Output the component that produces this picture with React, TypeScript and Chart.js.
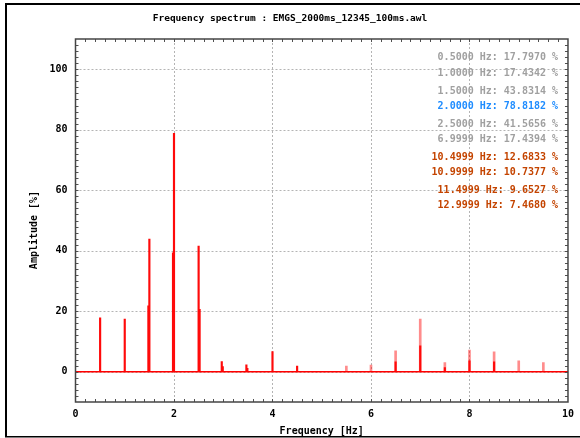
import React, { useEffect, useRef } from "react";
import { Chart, registerables } from "chart.js";

Chart.register(...registerables);

const TITLE = "Frequency spectrum : EMGS_2000ms_12345_100ms.awl";
const X_TITLE = "Frequency [Hz]";
const Y_TITLE = "Amplitude [%]";

const xTicks = [0, 2, 4, 6, 8, 10];
const yTicks = [0, 20, 40, 60, 80, 100];

// strong spectral lines
const brightFreqs = [0.5, 1.0, 1.48, 1.5, 1.98, 2.0, 2.5, 2.52, 2.97, 2.99, 3.47, 3.49, 4.0, 4.5, 6.5, 7.0, 7.5, 8.0, 8.5];
const brightAmps = [17.8, 17.43, 21.8, 43.83, 39.3, 78.82, 41.57, 20.6, 3.4, 1.7, 2.3, 1.1, 6.7, 1.9, 3.3, 8.6, 1.4, 3.6, 3.3];

// faint spectral lines
const paleFreqs = [5.5, 6.0, 6.5, 7.0, 7.5, 8.0, 8.5, 9.0, 9.5];
const paleAmps = [1.9, 2.2, 6.9, 17.44, 3.0, 7.2, 6.6, 3.6, 3.0];

const baselineFreqs = [0, 10];
const baselineAmps = [0, 0];

// peak list
const peakFreqs = [0.5, 1.0, 1.5, 2.0, 2.5, 6.9999, 10.4999, 10.9999, 11.4999, 12.9999];
const peakAmps = [17.797, 17.4342, 43.8314, 78.8182, 41.5656, 17.4394, 12.6833, 10.7377, 9.6527, 7.468];
const peakColors = ["#a0a0a0", "#a0a0a0", "#a0a0a0", "#1e8cff", "#a0a0a0", "#a0a0a0", "#c44400", "#c44400", "#c44400", "#c44400"];
const peakRows = [57, 73, 91, 106, 124, 139, 157, 172, 190, 205];

const MONO = "'DejaVu Sans Mono', 'Liberation Mono', monospace";

const framePlugin = {
  id: "framePlugin",
  beforeDatasetsDraw(chart: any) {
    const { ctx, chartArea: a, scales } = chart;
    const xs = scales.x;
    const ys = scales.y;
    ctx.save();
    ctx.strokeStyle = "#b4b4b4";
    ctx.lineWidth = 1;
    ctx.setLineDash([2, 2]);
    xTicks.forEach((v) => {
      if (v <= xs.min || v >= xs.max) return;
      const px = Math.round(xs.getPixelForValue(v)) + 0.5;
      ctx.beginPath();
      ctx.moveTo(px, a.top);
      ctx.lineTo(px, a.bottom);
      ctx.stroke();
    });
    yTicks.forEach((v) => {
      if (v <= ys.min || v >= ys.max) return;
      const py = Math.round(ys.getPixelForValue(v)) + 0.5;
      ctx.beginPath();
      ctx.moveTo(a.left, py);
      ctx.lineTo(a.right, py);
      ctx.stroke();
    });
    ctx.restore();
  },
  afterDraw(chart: any) {
    const { ctx, chartArea: a, scales } = chart;
    const xs = scales.x;
    const ys = scales.y;
    ctx.save();
    // minor ticks
    ctx.strokeStyle = "#505050";
    ctx.lineWidth = 1;
    for (let i = 1; i < 50; i++) {
      const px = Math.round(xs.getPixelForValue(i * 0.2)) + 0.5;
      ctx.beginPath();
      ctx.moveTo(px, a.bottom);
      ctx.lineTo(px, a.bottom - 3);
      ctx.moveTo(px, a.top);
      ctx.lineTo(px, a.top + 3);
      ctx.stroke();
    }
    for (let i = -4; i < 55; i++) {
      const py = Math.round(ys.getPixelForValue(i * 2)) + 0.5;
      ctx.beginPath();
      ctx.moveTo(a.left, py);
      ctx.lineTo(a.left + 3, py);
      ctx.moveTo(a.right, py);
      ctx.lineTo(a.right - 3, py);
      ctx.stroke();
    }
    // plot frame
    ctx.strokeStyle = "#454545";
    ctx.lineWidth = 1.5;
    ctx.strokeRect(a.left, a.top, a.right - a.left, a.bottom - a.top);

    // outer border
    ctx.fillStyle = "#000";
    ctx.fillRect(5, 3, 575, 2);
    ctx.fillRect(5, 3, 2, 434);
    ctx.fillRect(5, 436, 575, 1.5);

    // titles
    ctx.fillStyle = "#000";
    ctx.textBaseline = "middle";
    ctx.textAlign = "center";
    ctx.font = `bold 9.5px ${MONO}`;
    ctx.fillText(TITLE, 290, 19);
    ctx.font = `bold 10px ${MONO}`;
    ctx.fillText(X_TITLE, (a.left + a.right) / 2, 431);
    ctx.save();
    ctx.translate(34, 230);
    ctx.rotate(-Math.PI / 2);
    ctx.fillText(Y_TITLE, 0, 0);
    ctx.restore();

    // peak list
    ctx.textAlign = "right";
    ctx.font = `bold 10px ${MONO}`;
    peakFreqs.forEach((f, i) => {
      ctx.fillStyle = peakColors[i];
      ctx.fillText(`${f.toFixed(4)} Hz: ${peakAmps[i].toFixed(4)} %`, 558, peakRows[i]);
    });
    ctx.restore();
  },
};

export default function App() {
  const ref = useRef<HTMLCanvasElement>(null);
  useEffect(() => {
    const canvas = ref.current!;
    const tickFont = { family: MONO, size: 10, weight: "bold" as const };
    const chart = new Chart(canvas, {
      type: "bar",
      data: {
        datasets: [
          {
            type: "line",
            data: baselineFreqs.map((x, i) => ({ x, y: baselineAmps[i] })),
            borderColor: "#ff0000",
            borderWidth: 1.5,
            pointRadius: 0,
            order: 1,
          } as any,
          {
            type: "bar",
            data: brightFreqs.map((x, i) => ({ x, y: brightAmps[i] })),
            backgroundColor: "#ff0a0a",
            barThickness: 1.5,
            grouped: false,
            order: 2,
          } as any,
          {
            type: "bar",
            data: paleFreqs.map((x, i) => ({ x, y: paleAmps[i] })),
            backgroundColor: "rgba(255,0,0,0.45)",
            barThickness: 2,
            grouped: false,
            order: 3,
          } as any,
        ],
      },
      options: {
        responsive: false,
        maintainAspectRatio: false,
        animation: false,
        layout: { padding: { left: 0, right: 8, top: 39, bottom: 0 } },
        plugins: {
          legend: { display: false },
          tooltip: { enabled: false },
          title: { display: false },
        },
        scales: {
          x: {
            type: "linear",
            min: 0,
            max: 10,
            offset: false,
            grid: { display: false, drawTicks: false },
            border: { display: false },
            afterBuildTicks: (s: any) => {
              s.ticks = xTicks.map((v) => ({ value: v }));
            },
            afterFit: (s: any) => {
              s.height = 36;
            },
            ticks: { font: tickFont, color: "#000", padding: 6, maxRotation: 0, autoSkip: false },
          },
          y: {
            type: "linear",
            min: -10,
            max: 110,
            grid: { display: false, drawTicks: false },
            border: { display: false },
            afterBuildTicks: (s: any) => {
              s.ticks = yTicks.map((v) => ({ value: v }));
            },
            afterFit: (s: any) => {
              s.width = 75.5;
            },
            ticks: { font: tickFont, color: "#000", padding: 8, autoSkip: false },
          },
        },
      } as any,
      plugins: [framePlugin],
    });
    return () => chart.destroy();
  }, []);
  return (
    <div style={{ position: "absolute", left: 0, top: 0, width: 580, height: 438, background: "#fff" }}>
      <canvas ref={ref} width={580} height={438} style={{ display: "block" }} />
    </div>
  );
}
